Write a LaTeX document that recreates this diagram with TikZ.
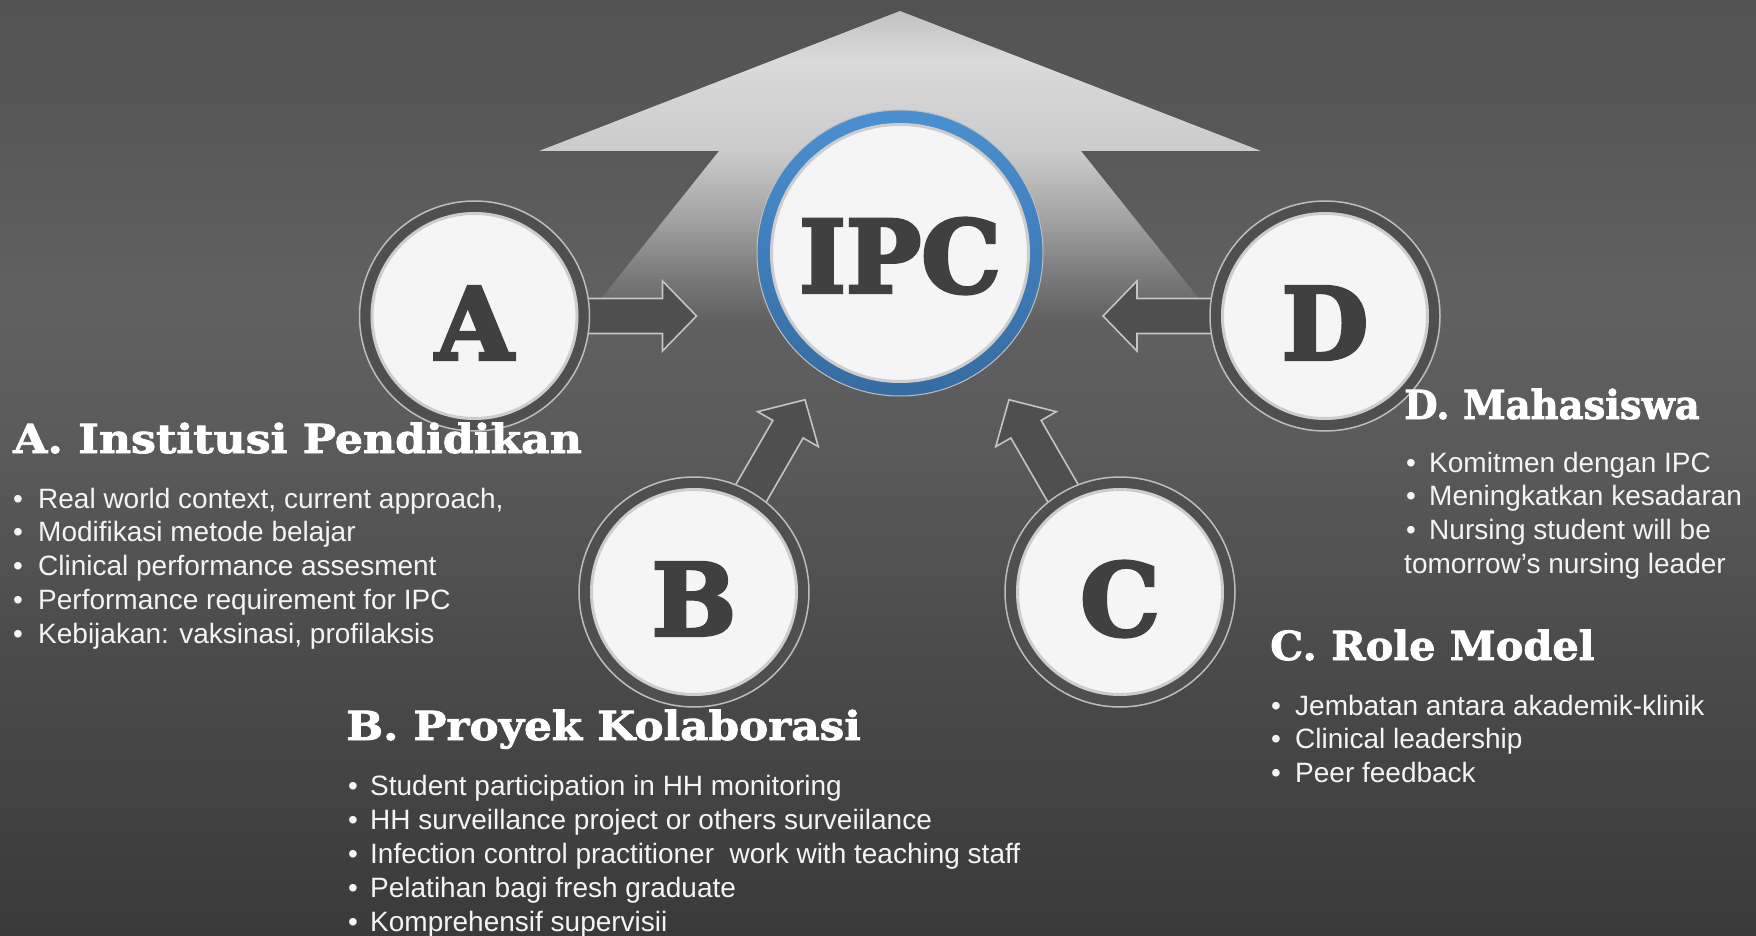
\documentclass[tikz,border=0pt]{standalone}
\usepackage{graphicx}
\usepackage{fontspec}
\setmainfont{Liberation Sans}
\newfontfamily\cooper{DejaVu Serif}[UprightFont={* Bold}, FakeBold=2]
\newfontfamily\cooperheavy{DejaVu Serif}[UprightFont={* Bold}, FakeBold=3.5]

% palette
\definecolor{bgTop}{HTML}{535353}
\definecolor{bgB}{HTML}{575757}
\definecolor{bgC}{HTML}{616161}
\definecolor{bgD}{HTML}{5A5A5A}
\definecolor{bgE}{HTML}{4B4B4B}
\definecolor{bgBot}{HTML}{3A3A3A}
\definecolor{upA}{HTML}{C2C2C2}
\definecolor{upB}{HTML}{DADADA}
\definecolor{upC}{HTML}{CBCBCB}
\definecolor{upD}{HTML}{A2A2A2}
\definecolor{upE}{HTML}{777777}
\definecolor{upF}{HTML}{616161}
\definecolor{ringgrey}{HTML}{4F4F4F}
\definecolor{ringline}{HTML}{BDBDBD}
\definecolor{discwhite}{HTML}{F5F5F5}
\definecolor{glyphgrey}{HTML}{404040}
\definecolor{ipcblueT}{HTML}{4A90D2}
\definecolor{ipcblueB}{HTML}{356BA2}
\definecolor{itemwhite}{HTML}{F4F4F4}

% backdrop: darker at the bottom, a light band in the upper middle
\pgfdeclareverticalshading{backdrop}{100bp}{%
  color(0bp)=(bgBot); color(25bp)=(bgBot); color(40.28bp)=(bgE);
  color(50.96bp)=(bgD); color(58.97bp)=(bgC); color(68.59bp)=(bgB);
  color(75bp)=(bgTop); color(100bp)=(bgTop)}
% large upward arrow, fading into the backdrop at its foot
\pgfdeclareverticalshading{upwardfade}{100bp}{%
  color(0bp)=(upF); color(25bp)=(upF); color(31.47bp)=(upE);
  color(41.18bp)=(upD); color(52.35bp)=(upC); color(67.07bp)=(upB);
  color(75bp)=(upA); color(100bp)=(upA)}

\tikzset{
  outerring/.style={circle, minimum size=230pt, inner sep=0pt, fill=ringgrey,
                    draw=ringline, line width=1.5pt},
  innerdisc/.style={circle, minimum size=208pt, inner sep=0pt, fill=discwhite},
  discshade/.style={draw=black, opacity=0.16, line width=3pt},
  capletter/.style={inner sep=0pt, text=glyphgrey, font=\cooperheavy\fontsize{100pt}{110pt}\selectfont},
  ipcring/.style={circle, minimum size=286pt, inner sep=0pt, top color=ipcblueT,
                  bottom color=ipcblueB, draw=ringline, line width=1pt},
  ipcdisc/.style={circle, minimum size=260pt, inner sep=0pt, fill=discwhite},
  arrowbody/.style={fill=ringgrey, draw=ringline!90!white, line width=1.6pt, line join=miter},
  blockarrow/.pic={\draw[arrowbody] (70,-17.5) -- (188,-17.5) -- (188,-35) -- (222,0)
                   -- (188,35) -- (188,17.5) -- (70,17.5) -- cycle;},
  titletext/.style={anchor=base west, inner sep=0pt, text=white,
                    font=\cooper\fontsize{40pt}{48pt}\selectfont},
  bullettext/.style={anchor=base west, inner sep=0pt, text=itemwhite,
                     font=\fontsize{28pt}{34pt}\selectfont},
  bulletdot/.style={bullettext}
}

\begin{document}
\begin{tikzpicture}[x=1pt, y=-1pt]
\useasboundingbox (0,0) rectangle (1756,936);
\clip (0,0) rectangle (1756,936);
\shade[shading=backdrop] (0,0) rectangle (1756,936);

% big upward arrow behind everything
\shade[shading=upwardfade] (900,11) -- (1261,151) -- (1081,151) -- (1216,320)
  -- (584,320) -- (719,151) -- (539,151) -- cycle;

% the four satellite circles (arrows first, the rings cover their tails)
\coordinate (Ac) at (474.5,316);
\coordinate (Bc) at (694,592);
\coordinate (Cc) at (1120,592);
\coordinate (Dc) at (1325,316);

\pic[rotate=0] at (Ac) {blockarrow};
\pic[rotate=60] at (Bc) {blockarrow};
\pic[rotate=120] at (Cc) {blockarrow};
\pic[rotate=180] at (Dc) {blockarrow};

\foreach \n in {A,B,C,D}{
  \node[outerring] (\n) at (\n c) {};
  \node[innerdisc] (\n in) at (\n.center) {};
  \draw[discshade] (\n.center) circle[radius=102.5pt];
  \node[capletter] (\n letter) at ([yshift=-7pt]\n.center) {\n};
}

% central IPC circle
\node[ipcring] (IPC) at (900,253) {};
\node[ipcdisc] (IPCin) at (IPC.center) {};
\draw[discshade] (IPC.center) circle[radius=128.5pt];
\node[capletter] (IPCtext) at ([yshift=-3pt]IPC.center) {IPC};

% A. Institusi Pendidikan
\node[titletext] (titleA) at (13,453) {\scalebox{1.105}[1]{A. Institusi Pendidikan}};
\foreach \txt [count=\i] in {{Real world context, current approach,},
    {Modifikasi metode belajar},{Clinical performance assesment},
    {Performance requirement for IPC},{Kebijakan: vaksinasi, profilaksis}}{
  \node[bulletdot] (Adot\i) at (13,{508+33.8*(\i-1)}) {•};
  \node[bullettext] (Aitem\i) at (38,{508+33.8*(\i-1)}) {\txt};
}

% B. Proyek Kolaborasi
\node[titletext] (titleB) at (346,740) {\scalebox{1.093}[1]{B. Proyek Kolaborasi}};
\foreach \txt [count=\i] in {{Student participation in HH monitoring},
    {HH surveillance project or others surveiilance},
    {Infection control practitioner~ work with teaching staff},
    {Pelatihan bagi fresh graduate},{Komprehensif supervisii}}{
  \node[bulletdot] (Bdot\i) at (348,{795+34*(\i-1)}) {•};
  \node[bullettext] (Bitem\i) at (370,{795+34*(\i-1)}) {\txt};
}

% C. Role Model
\node[titletext] (titleC) at (1270,660) {\scalebox{1.036}[1]{C. Role Model}};
\foreach \txt [count=\i] in {{Jembatan antara akademik-klinik},
    {Clinical leadership},{Peer feedback}}{
  \node[bulletdot] (Cdot\i) at (1271,{715+33.7*(\i-1)}) {•};
  \node[bullettext] (Citem\i) at (1295,{715+33.7*(\i-1)}) {\txt};
}

% D. Mahasiswa
\node[titletext] (titleD) at (1404,419) {\scalebox{0.963}[1]{D. Mahasiswa}};
\foreach \txt [count=\i] in {{Komitmen dengan IPC},{Meningkatkan kesadaran},
    {Nursing student will be}}{
  \node[bulletdot] (Ddot\i) at (1406,{472+33.6*(\i-1)}) {•};
  \node[bullettext] (Ditem\i) at (1429,{472+33.6*(\i-1)}) {\txt};
}
\node[bullettext] (Ditem4) at (1404,573) {tomorrow’s nursing leader};
\end{tikzpicture}
\end{document}
